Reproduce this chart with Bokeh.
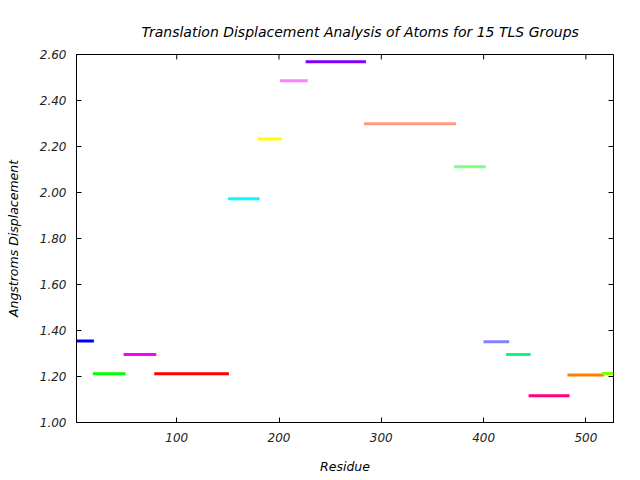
import math
from bokeh.plotting import figure
from bokeh.models import (ColumnDataSource, FixedTicker, NumeralTickFormatter,
                          Range1d, Title)
from bokeh.embed import file_html
from bokeh.resources import INLINE

# TLS group residue ranges and mean translation displacement
seg_start = [2, 18, 48, 78, 150, 179, 201, 226, 283, 371, 400, 422, 444, 482, 516]
seg_end = [19, 50, 80, 151, 181, 203, 228, 285, 373, 402, 425, 446, 484, 518, 527]
displacement = [1.354, 1.212, 1.296, 1.212, 1.973, 2.233, 2.486, 2.568, 2.299, 2.112,
                1.351, 1.296, 1.116, 1.207, 1.213]
colors = ["#0000ff", "#00ff00", "#ff00ff", "#ff0000", "#00ffff", "#ffff00", "#ff80ff",
          "#8000ff", "#ff9980", "#80ff80", "#8080ff", "#00ff80", "#ff0080", "#ff8000", "#80ff00"]
x_ticks = [100, 200, 300, 400, 500]
y_ticks = [1.0, 1.2, 1.4, 1.6, 1.8, 2.0, 2.2, 2.4, 2.6]
x_min, x_max = 2, 527
y_min, y_max = 1.0, 2.6

src = ColumnDataSource(dict(x0=seg_start, x1=seg_end, y=displacement, c=colors))

FONT = "DejaVu Sans"

p = figure(width=640, height=480, output_backend="svg", toolbar_location=None,
           x_range=Range1d(x_min, x_max), y_range=Range1d(y_min, y_max),
           min_border_left=76, min_border_right=27, min_border_top=54, min_border_bottom=58,
           x_axis_label="Residue", y_axis_label="Angstroms Displacement")
p.title = Title(text="Translation Displacement Analysis of Atoms for 15 TLS Groups",
                align="left", offset=65, text_font=FONT, text_font_size="14px",
                text_font_style="italic", text_color="#000000", standoff=29)
p.grid.visible = False
p.outline_line_color = "black"
p.outline_line_width = 1
p.background_fill_color = "white"
p.border_fill_color = "white"

p.segment(x0="x0", y0="y", x1="x1", y1="y", color="c", line_width=3,
          line_cap="butt", source=src)

# mirrored inward ticks on the top and right frame edges (half clipped by the frame)
p.scatter(x=x_ticks, y=[y_max] * len(x_ticks), marker="dash", size=10, angle=math.pi / 2,
          line_color="black", line_width=1)
p.scatter(x=[x_max] * len(y_ticks), y=y_ticks, marker="dash", size=10,
          line_color="black", line_width=1)

for ax in p.xaxis + p.yaxis:
    ax.major_tick_in = 5
    ax.major_tick_out = 0
    ax.minor_tick_in = 0
    ax.minor_tick_out = 0
    ax.axis_line_color = "black"
    ax.major_label_text_font = FONT
    ax.major_label_text_font_style = "italic"
    ax.major_label_text_font_size = "12px"
    ax.major_label_text_color = "#222222"
    ax.axis_label_text_font = FONT
    ax.axis_label_text_font_style = "italic"
    ax.axis_label_text_font_size = "12.5px"
    ax.axis_label_text_color = "#000000"
    ax.major_label_standoff = 10

p.xaxis.ticker = FixedTicker(ticks=x_ticks)
p.yaxis.ticker = FixedTicker(ticks=y_ticks)
p.yaxis.formatter = NumeralTickFormatter(format="0.00")
p.xaxis.axis_label_standoff = 14
p.yaxis.axis_label_standoff = 16

open("out.html", "w").write(file_html(p, INLINE))
